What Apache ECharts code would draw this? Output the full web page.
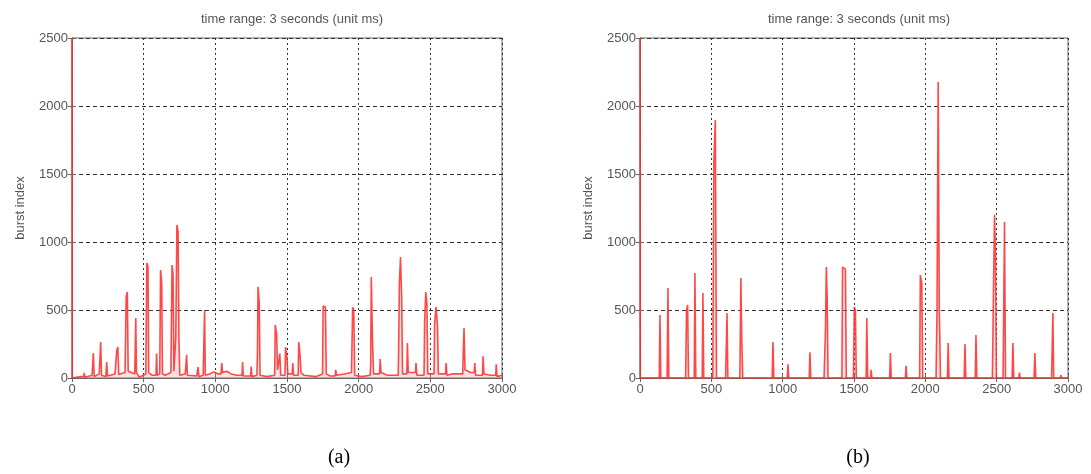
<!DOCTYPE html>
<html>
<head>
<meta charset="utf-8">
<script src="https://cdn.jsdelivr.net/npm/echarts@6/dist/echarts.min.js"></script>
<style>
html,body{margin:0;padding:0;background:#fff;}
#c{width:1091px;height:474px;}
</style>
</head>
<body>
<div id="c"></div>
<script>
// ---- data ----
const titleText = 'time range: 3 seconds (unit ms)';
const yName = 'burst index';
const captions = ['(a)', '(b)'];
const xTicks = [0, 500, 1000, 1500, 2000, 2500, 3000];
const yTicks = [0, 500, 1000, 1500, 2000, 2500];

// chart (a): time (ms) and burst index
const timeA = [0,2,60,82,85,90,140,145,149,155,190,196,200,206,236,242,248,300,306,312,320,326,370,374,378,386,392,438,441,445,450,470,515,518,522,530,535,560,586,590,595,612,615,618,626,631,650,690,694,698,705,711,720,724,732,740,746,752,790,796,800,805,870,876,880,885,915,921,925,930,960,990,1020,1040,1045,1050,1080,1110,1150,1186,1190,1195,1246,1250,1255,1290,1294,1298,1306,1312,1360,1414,1418,1428,1434,1446,1450,1456,1486,1490,1500,1506,1536,1540,1546,1578,1582,1590,1598,1620,1700,1748,1752,1768,1774,1800,1836,1840,1846,1900,1950,1954,1958,1966,1972,2020,2080,2084,2088,2096,2104,2146,2150,2156,2200,2276,2280,2284,2292,2300,2306,2336,2340,2346,2396,2400,2406,2456,2460,2468,2476,2482,2526,2530,2540,2550,2556,2606,2610,2616,2650,2726,2730,2735,2742,2780,2806,2810,2816,2864,2868,2874,2920,2956,2960,2965,3000];
const burstA = [2500,0,10,10,37,5,20,20,184,10,30,30,265,20,10,118,15,30,30,200,228,25,40,40,600,632,50,30,30,441,40,5,30,30,845,820,40,20,20,180,20,30,30,794,700,30,20,40,40,830,760,50,50,300,1125,1080,300,20,30,30,170,20,15,15,80,10,20,20,500,20,30,45,30,30,110,40,50,30,20,20,118,15,15,85,10,20,200,670,560,20,10,20,390,320,60,60,180,20,20,228,150,30,30,110,20,20,265,180,40,20,10,30,530,520,30,15,15,60,20,30,40,40,520,500,20,10,20,100,743,300,30,30,140,40,20,20,300,700,890,600,30,30,257,40,40,110,20,20,400,632,550,30,30,400,522,380,30,30,110,20,30,30,200,368,60,40,40,110,20,20,160,30,20,20,100,10,20];

// chart (b): time (ms) and burst index
const timeB = [0,2,100,135,140,146,190,196,202,320,326,334,340,380,385,391,436,441,447,510,518,528,536,600,610,616,700,707,713,720,926,932,938,1032,1037,1043,1186,1191,1197,1290,1300,1306,1312,1318,1415,1420,1440,1446,1496,1502,1510,1516,1585,1590,1596,1615,1620,1625,1750,1755,1761,1860,1865,1871,1960,1965,1975,1982,2075,2082,2090,2098,2106,2155,2160,2166,2272,2278,2284,2350,2355,2361,2470,2476,2485,2492,2498,2545,2555,2562,2608,2614,2620,2655,2660,2665,2762,2768,2774,2885,2894,2900,2945,2950,2955,3000];
const burstB = [2500,0,0,0,463,0,0,662,0,0,500,537,0,0,772,0,0,625,0,0,1600,1897,0,0,478,0,0,735,300,0,0,265,0,0,100,0,0,190,0,0,350,816,600,0,0,816,800,0,0,522,500,0,0,441,0,0,60,0,0,184,0,0,90,0,0,757,700,0,0,500,2176,500,0,0,257,0,0,250,0,0,316,0,0,500,1200,900,0,0,1147,0,0,257,0,0,40,0,0,184,0,0,478,0,0,20,0,0];

// ---- chart ----
const pairs = (t, v) => t.map((x, i) => [x, v[i]]);
const plain = v => String(v);
const FONT = 'Liberation Sans, Arial, sans-serif';
const labelFont = {color:'#555', fontSize:13, fontFamily:FONT};
const grids = [
  {left:72, top:38, width:430, height:340, show:true, borderColor:'#666', borderWidth:1, backgroundColor:'#fff'},
  {left:640, top:38, width:428, height:340, show:true, borderColor:'#666', borderWidth:1, backgroundColor:'#fff'}
];
const xAxes = [], yAxes = [];
for (let g = 0; g < 2; g++) {
  xAxes.push({
    type:'value', gridIndex:g, min:xTicks[0], max:xTicks[xTicks.length-1], interval:500,
    axisLine:{show:true, lineStyle:{color:'#666'}},
    axisTick:{show:true, inside:true, length:4, lineStyle:{color:'#666'}},
    axisLabel:Object.assign({margin:5, formatter:plain}, labelFont),
    splitLine:{show:true, lineStyle:{color:'#333', type:[2,3], width:1}}
  });
  xAxes.push({
    type:'value', gridIndex:g, position:'top', min:0, max:3000, interval:500,
    axisLine:{show:true, lineStyle:{color:'#666'}},
    axisTick:{show:true, inside:true, length:4, lineStyle:{color:'#666'}},
    axisLabel:{show:false}, splitLine:{show:false}
  });
  yAxes.push({
    type:'value', gridIndex:g, min:yTicks[0], max:yTicks[yTicks.length-1], interval:500,
    name:yName, nameLocation:'middle', nameGap:45, nameRotate:90,
    nameTextStyle:labelFont,
    axisLine:{show:true, lineStyle:{color:'#666'}},
    axisTick:{show:true, inside:true, length:4, lineStyle:{color:'#666'}},
    axisLabel:Object.assign({margin:4, formatter:plain}, labelFont),
    splitLine:{show:true, lineStyle:{color:'#333', type:[4,3], width:1}}
  });
  yAxes.push({
    type:'value', gridIndex:g, position:'right', min:0, max:2500, interval:500,
    axisLine:{show:true, lineStyle:{color:'#666'}},
    axisTick:{show:true, inside:true, length:4, lineStyle:{color:'#666'}},
    axisLabel:{show:false}, splitLine:{show:false}
  });
}
const mkSeries = (data, gi) => ({
  type:'line', xAxisIndex:gi*2, yAxisIndex:gi*2, data:data,
  showSymbol:false, symbol:'none', animation:false,
  lineStyle:{color:'#ff2a2a', width:1.6, opacity:0.85},
  areaStyle:{color:'rgba(255,140,140,0.35)'},
  z:3
});
const titleStyle = {fontSize:13, fontWeight:'normal', color:'#555', fontFamily:FONT};
const capStyle = {fontSize:20, fontWeight:'normal', color:'#000', fontFamily:'Liberation Serif, Times New Roman, serif'};
const chart = echarts.init(document.getElementById('c'), null, {renderer:'canvas'});
chart.setOption({
  animation:false,
  backgroundColor:'#fff',
  title:[
    {text:titleText, left:287, top:8, textAlign:'center', textStyle:titleStyle},
    {text:titleText, left:854, top:8, textAlign:'center', textStyle:titleStyle},
    {text:captions[0], left:334, top:443, textAlign:'center', textStyle:capStyle},
    {text:captions[1], left:853, top:443, textAlign:'center', textStyle:capStyle}
  ],
  grid:grids,
  xAxis:xAxes,
  yAxis:yAxes,
  series:[mkSeries(pairs(timeA, burstA), 0), mkSeries(pairs(timeB, burstB), 1)]
});
</script>
</body>
</html>
